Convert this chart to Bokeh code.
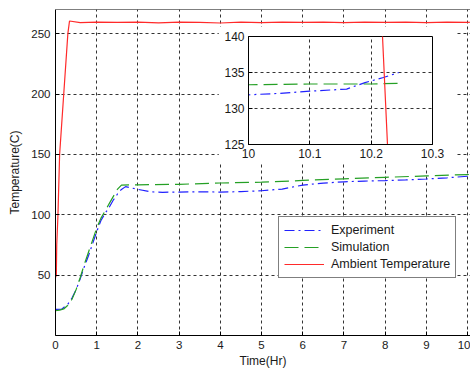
import numpy as np
from bokeh.plotting import figure
from bokeh.models import Range1d, FixedTicker, Legend, LegendItem, Span
from bokeh.layouts import column, row
from bokeh.embed import file_html
from bokeh.resources import INLINE

# ---------------- data ----------------
exp_t = [0, 0.15, 0.3, 0.4, 0.5, 0.6, 0.7, 0.8, 0.9, 1.0, 1.1, 1.2, 1.3, 1.4, 1.5,
         1.6, 1.7, 1.8, 2.0, 2.3, 2.6, 3.0, 3.5, 4.0, 4.5, 5.0, 5.5, 6.0, 6.5, 7.0,
         7.5, 8.0, 8.5, 9.0, 9.5, 10.0, 10.05, 10.1, 10.16, 10.19, 10.22, 10.245]
exp_T = [21.6, 21.8, 26, 31, 38, 47, 57, 66, 76, 86, 95, 101, 106, 112, 117,
         121, 123.3, 122.5, 121.0, 119, 118.6, 118.8, 119, 118.8, 119.2, 119.9, 121.3, 124.6, 126.2, 127.3,
         127.9, 128.3, 128.9, 129.6, 130.6, 131.9, 132.1, 132.4, 132.7, 133.6, 134.3, 135.0]

sim_t = [0, 0.1, 0.2, 0.3, 0.4, 0.5, 0.6, 0.7, 0.8, 0.9, 1.0, 1.1, 1.2, 1.3, 1.4, 1.5,
         1.6, 1.8, 2.0, 3.0, 4.0, 5.0, 6.0, 7.0, 8.0, 9.0, 10.0, 10.1, 10.2, 10.247]
sim_T = [20.5, 21, 22, 25, 30, 38, 48, 59, 69, 79, 89, 97, 103, 109, 115, 121,
         124.5, 124.8, 124.8, 125.2, 126.3, 127.0, 128.4, 129.8, 131.0, 132.2, 133.3, 133.4, 133.4, 133.5]

amb_t = [0.0, 0.02, 0.03, 0.06, 0.1, 0.2, 0.3, 0.34, 0.6, 1.0, 1.5, 2.0, 2.5, 3.0,
         3.5, 4.0, 4.5, 5.0, 5.5, 6.0, 6.5, 7.0, 7.5, 8.0, 8.5, 9.0, 9.5, 10.0,
         10.15, 10.2185, 10.2266, 10.235]
amb_T = [48, 50, 75, 100, 150, 200, 250, 260.5, 259.2, 259.5, 259.3, 259.6, 258.9, 259.5,
         259.4, 258.8, 259.5, 259.2, 259.6, 259.3, 259.5, 259.1, 259.6, 259.4, 259.5, 259.2, 259.6, 259.4,
         259.5, 140, 125, 110]

main_x_ticks = [0, 1, 2, 3, 4, 5, 6, 7, 8, 9, 10]
main_y_ticks = [50, 100, 150, 200, 250]
inset_x_ticks = [10, 10.1, 10.2, 10.3]
inset_x_labels = ["10", "10.1", "10.2", "10.3"]
inset_y_ticks = [125, 130, 135, 140]

labels = ["Experiment", "Simulation", "Ambient Temperature"]

# ---------------- style ----------------
FONT = "Liberation Sans"
TXT = "#1a1a1a"
BLUE = "#2020ff"
GREEN = "#25a025"
RED = "#ff2a2a"
GRID = "#333333"


def style_axis(ax, size="11.5px"):
    ax.major_label_text_font = FONT
    ax.major_label_text_font_size = size
    ax.major_label_text_color = TXT
    ax.axis_label_text_font = FONT
    ax.axis_label_text_font_size = "12px"
    ax.axis_label_text_font_style = "normal"
    ax.axis_label_text_color = TXT
    ax.major_tick_in = 4
    ax.major_tick_out = 0
    ax.minor_tick_line_color = None
    ax.axis_line_color = "black"
    ax.major_tick_line_color = "black"


# ---------------- main figure ----------------
p = figure(width=470, height=370, output_backend="svg", toolbar_location=None,
           x_range=Range1d(0, 10.07), y_range=Range1d(0, 270),
           min_border_left=55, min_border_right=0, min_border_top=9, min_border_bottom=34)
p.outline_line_color = None
p.background_fill_color = "white"
p.border_fill_color = "white"

p.xaxis.ticker = FixedTicker(ticks=main_x_ticks)
p.yaxis.ticker = FixedTicker(ticks=main_y_ticks)
p.xaxis.axis_label = "Time(Hr)"
p.yaxis.axis_label = "Temperature(C)"
for ax in (p.xaxis[0], p.yaxis[0]):
    style_axis(ax)
p.xaxis.major_label_standoff = 5
p.yaxis.major_label_standoff = 5
p.xaxis.axis_label_standoff = 2
p.yaxis.axis_label_standoff = 6

p.add_layout(Span(location=270, dimension="width", line_color="black", line_width=1))

for g in (p.xgrid[0], p.ygrid[0]):
    g.grid_line_color = GRID
    g.grid_line_dash = "3 3"
    g.grid_line_width = 1
p.xgrid.ticker = FixedTicker(ticks=main_x_ticks)
p.ygrid.ticker = FixedTicker(ticks=main_y_ticks)

r_exp = p.line(exp_t, exp_T, line_color=BLUE, line_width=1.2, line_dash="10 4 2 4")
r_sim = p.line(sim_t, sim_T, line_color=GREEN, line_width=1.2, line_dash="14 6")
r_amb = p.line(amb_t, amb_T, line_color=RED, line_width=1.2)

legend = Legend(items=[LegendItem(label=labels[0], renderers=[r_exp]),
                       LegendItem(label=labels[1], renderers=[r_sim]),
                       LegendItem(label=labels[2], renderers=[r_amb])],
                location=(223, 57))
legend.border_line_color = "black"
legend.border_line_width = 1
legend.background_fill_color = "white"
legend.background_fill_alpha = 1
legend.label_text_font = FONT
legend.label_text_font_size = "12.5px"
legend.label_text_color = TXT
legend.glyph_width = 40
legend.glyph_height = 16
legend.label_height = 16
legend.label_standoff = 7
legend.padding = 5
legend.spacing = 1
legend.margin = 0
p.add_layout(legend)

# ---------------- inset ----------------
q = figure(width=238, height=138, output_backend="svg", toolbar_location=None,
           x_range=Range1d(10, 10.3), y_range=Range1d(125, 140),
           min_border_left=30, min_border_right=24, min_border_top=10, min_border_bottom=20)
q.outline_line_color = "black"
q.background_fill_color = "white"
q.border_fill_color = "white"
q.xaxis.ticker = FixedTicker(ticks=inset_x_ticks)
q.yaxis.ticker = FixedTicker(ticks=inset_y_ticks)
q.xaxis.major_label_overrides = {t: s for t, s in zip(inset_x_ticks, inset_x_labels)}
for ax in (q.xaxis[0], q.yaxis[0]):
    style_axis(ax, "12px")
q.xaxis.major_label_standoff = 4
q.yaxis.major_label_standoff = 4
for g in (q.xgrid[0], q.ygrid[0]):
    g.grid_line_color = GRID
    g.grid_line_dash = "3 3"
q.xgrid.ticker = FixedTicker(ticks=inset_x_ticks)
q.ygrid.ticker = FixedTicker(ticks=inset_y_ticks)

q.line(exp_t, exp_T, line_color=BLUE, line_width=1.2, line_dash="10 4 2 4")
q.line(sim_t, sim_T, line_color=GREEN, line_width=1.2, line_dash="14 6")
q.line(amb_t, amb_T, line_color=RED, line_width=1.2)

holder = row(q)
holder.styles = {"position": "absolute", "left": "218px", "top": "26px", "z-index": "5"}

layout = column(p, holder)
open("out.html", "w").write(file_html(layout, INLINE))
